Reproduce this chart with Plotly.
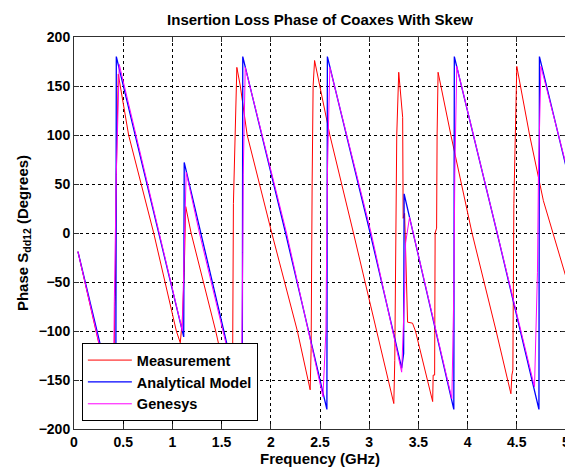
import plotly.graph_objects as go

meas_f = [0.04, 0.22, 0.40, 0.415, 0.42, 0.43, 0.44, 0.45, 0.555, 0.81, 1.04, 1.08, 1.10, 1.12, 1.135,
          1.19, 1.44, 1.61, 1.62, 1.64, 1.655, 1.69, 1.76, 2.01, 2.27, 2.40, 2.41, 2.42, 2.43, 2.445,
          2.60, 2.84, 3.08, 3.25, 3.26, 3.28, 3.30, 3.34, 3.345, 3.36, 3.39, 3.44, 3.47, 3.645,
          3.65, 3.665, 3.67, 3.685, 3.69, 3.70, 3.83, 4.045, 4.29, 4.44, 4.45, 4.46, 4.47, 4.49,
          4.50, 4.63, 4.77, 5.0]
meas_p = [-19, -100, -178, -75, -65, 60, 130, 162, 100, 0, -100, -112, -90, -40, 27,
          0, -100, -176, 30, 130, 169, 150, 100, 0, -100, -160, -118, 50, 150, 176,
          100, 0, -100, -174, -130, 100, 164, 118, 15, 20, -91, -92, -100, -172,
          -145, -145, 0, 5, 100, 164, 100, 0, -100, -164, -145, -140, 30, 130,
          170, 100, 33, -45]

# Analytical model (blue)
model_f = [0.04, 0.425, 0.43, 0.86, 1.115, 1.12, 1.71, 1.715, 2.15, 2.57, 2.575, 3.01, 3.33, 3.35,
           3.355, 3.86, 3.865, 4.30, 4.725, 4.73, 5.0]
model_p = [-19, -180, 180, 0, -106, 72, -180, 180, 0, -180, 180, 0, -138, -123,
           40, -180, 180, 0, -180, 180, 68]

# Genesys (magenta)
gen_f = [0.04, 0.40, 0.41, 0.43, 0.46, 0.87, 1.09, 1.10, 1.12, 1.14, 1.275, 1.70, 1.715, 1.72, 1.74,
         2.16, 2.53, 2.56, 2.575, 2.60, 3.02, 3.33, 3.36, 3.37, 3.41, 3.84, 3.86, 3.87, 3.89,
         4.30, 4.68, 4.71, 4.72, 4.745, 5.0]
gen_p = [-19, -176, -70, 60, 172, 0, -95, -100, -20, 62, 0, -178, -20, 60, 169,
         0, -167, -100, 60, 169, 0, -142, -60, -10, 16, -169, -60, 60, 170,
         0, -157, -40, 60, 170, 70]

x_ticks = [0, 0.5, 1, 1.5, 2, 2.5, 3, 3.5, 4, 4.5, 5]
x_labels = ["0", "0.5", "1", "1.5", "2", "2.5", "3", "3.5", "4", "4.5", "5"]
y_ticks = [-200, -150, -100, -50, 0, 50, 100, 150, 200]

FONT = "Arial, Liberation Sans, sans-serif"

fig = go.Figure()
fig.add_trace(go.Scatter(x=meas_f, y=meas_p, mode="lines", name="Measurement",
                         line=dict(color="#ff0000", width=1)))
fig.add_trace(go.Scatter(x=model_f, y=model_p, mode="lines", name="Analytical Model",
                         line=dict(color="#0000ff", width=1.3)))
fig.add_trace(go.Scatter(x=gen_f, y=gen_p, mode="lines", name="Genesys",
                         line=dict(color="#ff00ff", width=1)))

axis_common = dict(
    showline=True, linecolor="#303030", linewidth=1, mirror="ticks",
    ticks="inside", ticklen=5, tickcolor="#303030",
    showgrid=True, gridcolor="#000000", griddash="dot", gridwidth=1,
    zeroline=False, ticklabeloverflow="allow",
    tickfont=dict(family=FONT, size=14, color="#000000", weight="bold"),
)

fig.update_xaxes(range=[0, 5], tickvals=x_ticks, ticktext=x_labels,
                 title=dict(text="Frequency (GHz)", standoff=2,
                            font=dict(family=FONT, size=15, color="#000", weight="bold")),
                 **axis_common)
fig.update_yaxes(range=[-200, 200], tickvals=y_ticks,
                 title=dict(text="Phase S<sub>dd12</sub> (Degrees)", standoff=6,
                            font=dict(family=FONT, size=15, color="#000", weight="bold")),
                 **axis_common)

# the page adds an 8 px body margin, so the figure is sized/offset to compensate
fig.update_layout(
    width=565, height=465,
    margin=dict(l=66, r=3, t=29, b=44),
    paper_bgcolor="white", plot_bgcolor="white",
    title=dict(text="Insertion Loss Phase of Coaxes With Skew", x=0.5, xref="paper",
               xanchor="center", y=1, yref="paper", yanchor="bottom", pad=dict(b=12),
               font=dict(family=FONT, size=15, color="#000", weight="bold")),
    legend=dict(x=0.016, y=0.02, xanchor="left", yanchor="bottom",
                bgcolor="white", bordercolor="#000", borderwidth=1,
                font=dict(family=FONT, size=14.5, color="#000", weight="bold"),
                tracegroupgap=0, itemwidth=44),
    showlegend=True,
)

fig.write_html("out.html")
